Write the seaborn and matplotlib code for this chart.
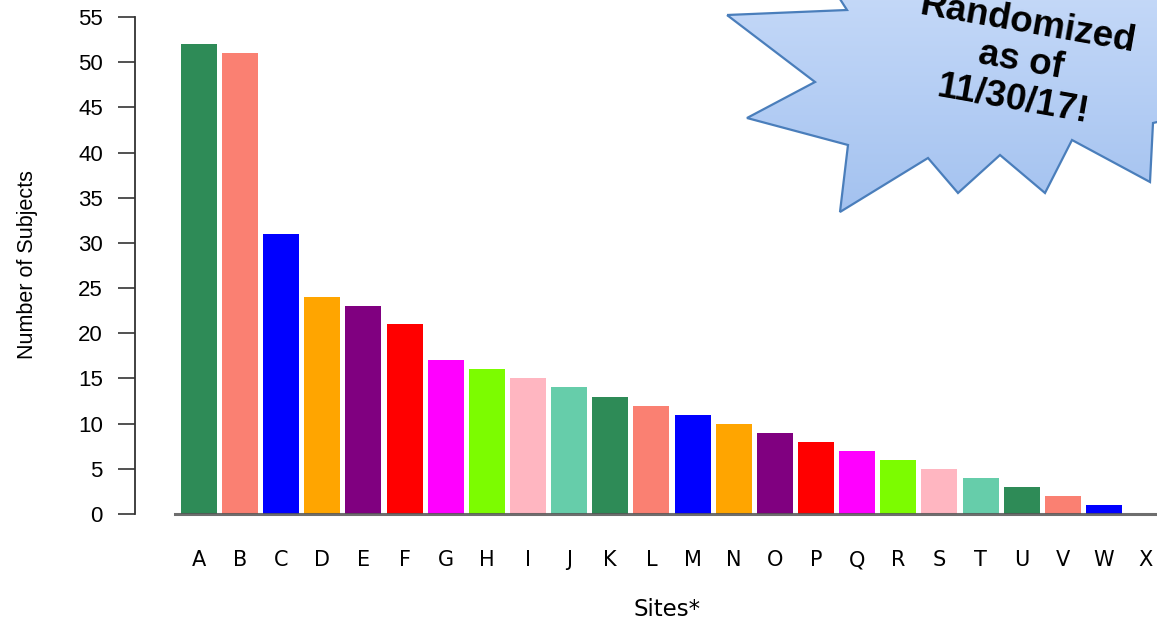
import numpy as np
import pandas as pd
import matplotlib
matplotlib.use("Agg")
import matplotlib.pyplot as plt
from matplotlib import font_manager
from matplotlib.patches import Polygon
import seaborn as sns

# Enrolment counts per site
sites = list("ABCDEFGHIJKLMNOPQRSTUVWX")
subjects = [52, 51, 31, 24, 23, 21, 17, 16, 15, 14, 13, 12,
            11, 10, 9, 8, 7, 6, 5, 4, 3, 2, 1, 0]
cycle_colors = ["#2E8B57", "#FA8072", "#0000FF", "#FFA500", "#800080",
                "#FF0000", "#FF00FF", "#7CFC00", "#FFB6C1", "#66CDAA"]
y_ticks = list(range(0, 56, 5))
burst_lines = ["Randomized", "as of", "11/30/17!"]

sns.set_theme(style="white")
plt.rcParams["font.family"] = ["Liberation Sans", "DejaVu Sans"]

installed = {f.name for f in font_manager.fontManager.ttflist}
narrow = "Liberation Sans Narrow" if "Liberation Sans Narrow" in installed else "Liberation Sans"

W, H = 1157, 619
fig = plt.figure(figsize=(W / 100, H / 100), dpi=100)

# axes geometry in pixels
left_px, right_px, top_px, bottom_px = 175, 1157, 17, 514
ax = fig.add_axes([left_px / W, (H - bottom_px) / H,
                   (right_px - left_px) / W, (bottom_px - top_px) / H])

df = pd.DataFrame({"site": sites, "n": subjects})
palette = [cycle_colors[i % len(cycle_colors)] for i in range(len(sites))]
sns.barplot(data=df, x="site", y="n", hue="site", palette=palette,
            legend=False, width=0.875, linewidth=0, saturation=1, ax=ax)

ax.set_xlim(-0.58, 23.29)
ax.set_ylim(0, 55)
ax.set_yticks(y_ticks)
ax.set_yticklabels([str(t) for t in y_ticks], family="DejaVu Sans")
ax.set_xticks(range(len(sites)))
ax.set_xticklabels(sites, family="DejaVu Sans")
ax.tick_params(axis="x", length=0, pad=26, colors="black", labelsize=15)
ax.tick_params(axis="y", left=True, length=12.5, width=1.2, pad=10.5,
               direction="out", color="#333333", labelcolor="black",
               labelsize=16)
ax.set_xlabel("")
ax.set_ylabel("")

for s in ["top", "right"]:
    ax.spines[s].set_visible(False)
ax.spines["left"].set_position(("outward", 29))
ax.spines["left"].set_color("#333333")
ax.spines["left"].set_linewidth(1.3)
ax.spines["bottom"].set_color("#555555")
ax.spines["bottom"].set_alpha(0.85)
ax.spines["bottom"].set_linewidth(2.2)
ax.spines["bottom"].set_zorder(5)

fig.text(667 / W, (H - 609) / H, "Sites*", ha="center", va="center",
         fontsize=16.5, family="DejaVu Sans", color="black")
fig.text(28 / W, (H - 265) / H, "Number of Subjects", rotation=90,
         ha="center", va="center", fontsize=15.5, family=narrow,
         fontstretch="condensed", color="black")

# Starburst callout in the upper right corner
ov = fig.add_axes([0, 0, 1, 1], zorder=10)
ov.set_xlim(0, W)
ov.set_ylim(H, 0)
ov.axis("off")
ov.patch.set_alpha(0)

burst = [(727, 15), (847, 10), (815, -40), (960, -30), (1100, -45),
         (1175, -10), (1158, 60), (1230, 105), (1153, 123), (1150, 182),
         (1072, 140), (1045, 193), (1000, 155), (958, 193), (928, 158),
         (840, 212), (848, 145), (747, 118), (815, 82)]
poly = Polygon(burst, closed=True, facecolor="none", edgecolor="#4A7EBB",
               linewidth=1.6, zorder=3)
grad = np.linspace(0, 1, 256).reshape(-1, 1)
top_c = np.array([0.80, 0.87, 0.98])
bot_c = np.array([0.64, 0.76, 0.94])
img = top_c[None, None, :] * (1 - grad[..., None]) + bot_c[None, None, :] * grad[..., None]
img = np.repeat(img, 2, axis=1)
im = ov.imshow(img, extent=(700, 1240, 215, -60), aspect="auto", zorder=2,
               interpolation="bilinear")
clip = Polygon(burst, closed=True, transform=ov.transData)
im.set_clip_path(clip)
ov.add_patch(poly)

centers = [(1028, 24), (1021, 61), (1013, 100)]
for txt, (cx, cy) in zip(burst_lines, centers):
    ov.text(cx, cy, txt, ha="center", va="center", rotation=-10,
            rotation_mode="anchor", fontsize=26.5, fontweight="bold",
            color="black", zorder=4)

fig.savefig("out.png", dpi=100)
